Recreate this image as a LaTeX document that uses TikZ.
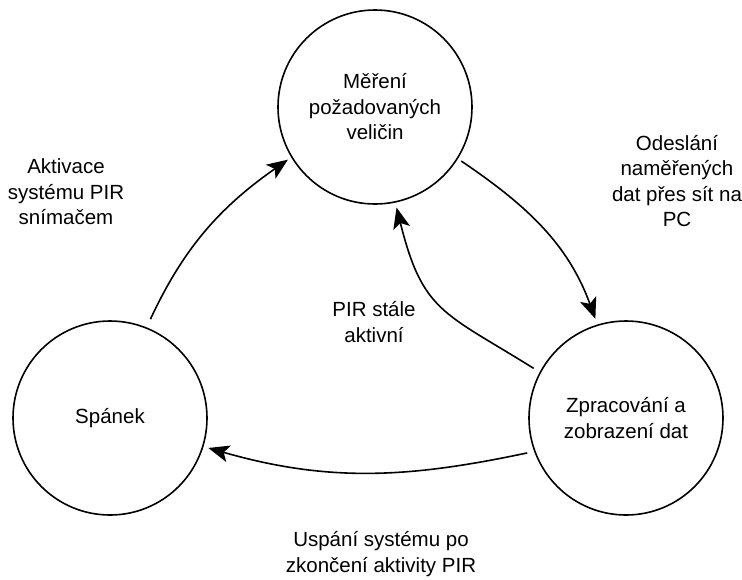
\documentclass[tikz,border=0pt]{standalone}
\usepackage{fontspec}
\setmainfont{Liberation Sans}
\usetikzlibrary{arrows.meta}
\begin{document}
\begin{tikzpicture}[x=1pt,y=1pt,
  state/.style={circle, draw, line width=1.6pt, minimum size=194pt, inner sep=0pt,
    align=center, font=\fontsize{20.5}{25.5}\selectfont},
  lbl/.style={align=center, font=\fontsize{20.5}{25.5}\selectfont},
  arr/.style={line width=1.6pt, -{Stealth[length=21pt, width=17pt, inset=5pt]},
    shorten <=7pt, shorten >=5pt}]
  \useasboundingbox (0,0) rectangle (742,-579);

  % states
  \node[state] (meas)  at (375,-107) {Měření\\požadovaných\\veličin};
  \node[state] (sleep) at (110,-418) {Spánek};
  \node[state] (proc)  at (626,-418) {Zpracování a\\zobrazení dat};

  % transition labels
  \node[lbl] (lact)  at (66,-192)  {Aktivace\\systému PIR\\snímačem};
  \node[lbl] (lsend) at (677,-181) {Odeslání\\naměřených\\dat přes sít na\\PC};
  \node[lbl] (lpir)  at (374,-322) {PIR stále\\aktivní};
  \node[lbl] (lsl)   at (381,-554) {Uspání systému po\\zkončení aktivity PIR};

  % transitions
  \draw[arr, shorten <=9pt, shorten >=4pt] (sleep.68) to[out=65, in=215] (meas.211);
  \draw[arr, shorten <=4pt, shorten >=6pt] (meas.328) to[out=-34, in=110] (proc.107);
  \draw[arr] (proc.152) to[out=148, in=284, looseness=1.3] (meas.282);
  \draw[arr] (proc.200) to[out=192, in=344] (sleep.343);
\end{tikzpicture}
\end{document}
